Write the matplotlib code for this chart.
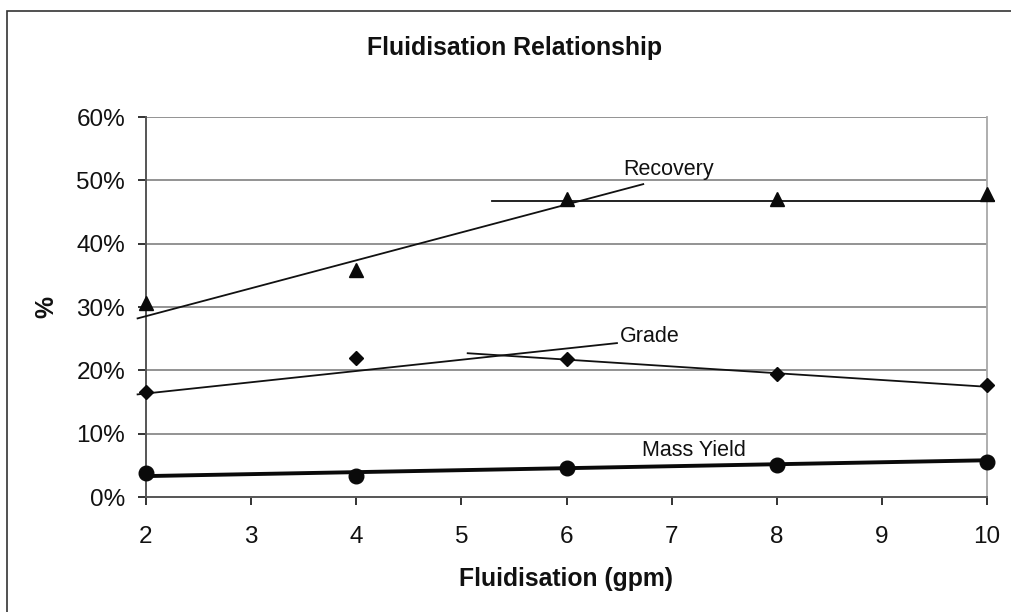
import numpy as np
import matplotlib.pyplot as plt
from matplotlib.ticker import PercentFormatter
from matplotlib.patches import Rectangle

plt.rcParams['font.family'] = ['Liberation Sans', 'DejaVu Sans']

# donnees
flow = [2, 4, 6, 8, 10]
recovery = [0.306, 0.358, 0.470, 0.470, 0.478]
grade = [0.166, 0.219, 0.218, 0.195, 0.177]
mass_yield = [0.038, 0.033, 0.046, 0.050, 0.055]

# lignes de tendance (extremites)
rec_fit1_x = [1.92, 6.73]
rec_fit1_y = [0.282, 0.494]
rec_fit2_x = [5.29, 10.07]
rec_fit2_y = [0.468, 0.468]
gr_fit1_x = [1.92, 6.48]
gr_fit1_y = [0.162, 0.243]
gr_fit2_x = [5.06, 10.0]
gr_fit2_y = [0.227, 0.174]
my_fit_x = [2.0, 10.0]
my_fit_y = [0.033, 0.058]

W, H = 1011, 612
fig = plt.figure(figsize=(W/100, H/100), dpi=100)
ax = fig.add_axes([146/W, 1-497/H, (987-146)/W, (497-117)/H])

# cadre exterieur
fig.patches.append(Rectangle((7/W, -0.2), 1.2, 1.2 - 11/H,
                             transform=fig.transFigure, fill=False,
                             edgecolor='#333333', linewidth=1.2, zorder=0))

for y in np.arange(0.1, 0.61, 0.1):
    ax.axhline(y, color='#8a8a8a', lw=1.3, zorder=1)

ax.plot(rec_fit1_x, rec_fit1_y, '-', color='#111111', lw=1.3, clip_on=False, zorder=3)
ax.plot(rec_fit2_x, rec_fit2_y, '-', color='#111111', lw=1.3, clip_on=False, zorder=3)
ax.plot(gr_fit1_x, gr_fit1_y, '-', color='#111111', lw=1.3, clip_on=False, zorder=3)
ax.plot(gr_fit2_x, gr_fit2_y, '-', color='#111111', lw=1.3, clip_on=False, zorder=3)
ax.plot(my_fit_x, my_fit_y, '-', color='#0a0a0a', lw=2.8, clip_on=False, zorder=3)

ax.plot(flow, recovery, '^', color='#0a0a0a', ms=10.5, ls='none', clip_on=False, zorder=4)
ax.plot(flow, grade, 'D', color='#0a0a0a', ms=7, ls='none', clip_on=False, zorder=4)
ax.plot(flow, mass_yield, 'o', color='#0a0a0a', ms=10.5, ls='none', clip_on=False, zorder=4)

ax.text(6.97, 0.517, 'Recovery', fontsize=15.5, ha='center', va='center', color='#111111')
ax.text(6.79, 0.253, 'Grade', fontsize=15.5, ha='center', va='center', color='#111111')
ax.text(7.21, 0.074, 'Mass Yield', fontsize=15.5, ha='center', va='center', color='#111111')

ax.set_xlim(2, 10)
ax.set_ylim(0, 0.6)
ax.set_xticks(range(2, 11))
ax.set_yticks(np.arange(0, 0.61, 0.1))
ax.yaxis.set_major_formatter(PercentFormatter(1.0, decimals=0))
ax.tick_params(labelsize=17.5, colors='#111111', length=6, width=1.2, direction='out')
ax.tick_params(axis='x', pad=15)
ax.tick_params(axis='y', pad=9)
for s in ['left', 'bottom']:
    ax.spines[s].set_color('#555555')
    ax.spines[s].set_linewidth(1.4)
ax.spines['top'].set_visible(False)
ax.spines['right'].set_color('#a8a8a8')
ax.spines['right'].set_linewidth(1.3)

fig.text(566/W, 1-586/H, 'Fluidisation (gpm)', fontsize=17.8, fontweight='bold',
         ha='center', va='baseline', color='#111111')
fig.text(46/W, 1-307/H, '%', fontsize=17.8, fontweight='bold', rotation=90,
         ha='center', va='center', color='#111111')
fig.text(514.5/W, 1-55/H, 'Fluidisation Relationship', fontsize=17.9, fontweight='bold',
         ha='center', va='baseline', color='#111111')

plt.savefig('out.png', dpi=100)
